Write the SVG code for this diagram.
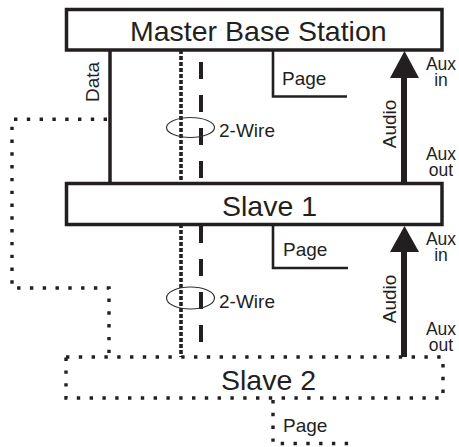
<svg xmlns="http://www.w3.org/2000/svg" width="459" height="447" viewBox="0 0 459 447">
<style>
.box{fill:#fff;stroke:#231f20;stroke-width:3.5}
.solid{fill:none;stroke:#231f20;stroke-width:3.5}
.page{fill:none;stroke:#231f20;stroke-width:2.6}
.dot{fill:none;stroke:#231f20;stroke-width:3.4;stroke-dasharray:3.4 9.4}
.fine{fill:none;stroke:#231f20;stroke-width:3.6;stroke-dasharray:4 2}
.dash{fill:none;stroke:#231f20;stroke-width:4;stroke-dasharray:17 16}
.ell{fill:none;stroke:#333;stroke-width:1.2}
.arrow{fill:#231f20}
.big{font-family:"Liberation Sans",Arial,sans-serif;font-size:28.5px;fill:#231f20}
.sm{font-family:"Liberation Sans",Arial,sans-serif;font-size:19px;fill:#231f20}
.aux{font-family:"Liberation Sans",Arial,sans-serif;font-size:17.5px;fill:#231f20;text-anchor:middle}
</style>
<g id="connectors">
  <line class="solid" x1="110" y1="50" x2="110" y2="183"/>
  <path class="dot" d="M107,119.3 H12 V288 H109 V357"/>
  <line class="fine" x1="181" y1="50" x2="181" y2="357"/>
  <line class="dash" x1="201" y1="62" x2="201" y2="180"/>
  <line class="dash" x1="201" y1="226" x2="201" y2="357"/>
  <ellipse class="ell" cx="190.5" cy="127.5" rx="24" ry="10"/>
  <ellipse class="ell" cx="190.5" cy="298" rx="24" ry="11"/>
  <path class="page" d="M273,50 V96.5 H347"/>
  <path class="page" d="M273,225 V268 H348"/>
  <path class="dot" d="M273,400 V443.5 H350"/>
  <rect class="arrow" x="401" y="76" width="6" height="107"/>
  <polygon class="arrow" points="404.5,51 419,78 390,78"/>
  <rect class="arrow" x="401" y="250" width="6" height="107"/>
  <polygon class="arrow" points="404.5,226 419,252 390,252"/>
  <text class="sm" transform="translate(99,82) rotate(-90)" text-anchor="middle">Data</text>
  <text class="sm" x="219" y="137">2-Wire</text>
  <text class="sm" x="219" y="308">2-Wire</text>
  <text class="sm" x="282" y="85">Page</text>
  <text class="sm" x="283" y="256">Page</text>
  <text class="sm" x="283" y="432">Page</text>
  <text class="sm" transform="translate(396,124) rotate(-90)" text-anchor="middle">Audio</text>
  <text class="sm" transform="translate(396,299) rotate(-90)" text-anchor="middle">Audio</text>
  <text class="aux" x="441" y="70">Aux</text>
  <text class="aux" x="441" y="85.5">in</text>
  <text class="aux" x="441" y="160">Aux</text>
  <text class="aux" x="441" y="176">out</text>
  <text class="aux" x="441" y="245">Aux</text>
  <text class="aux" x="441" y="260.5">in</text>
  <text class="aux" x="441" y="335">Aux</text>
  <text class="aux" x="441" y="351">out</text>
</g>
<g id="master">
  <rect class="box" x="66.5" y="9.5" width="375.5" height="40.5"/>
  <text class="big" x="130" y="41">Master Base Station</text>
</g>
<g id="slave1">
  <rect class="box" x="66.5" y="183.5" width="375.5" height="41"/>
  <text class="big" x="222" y="216">Slave 1</text>
</g>
<g id="slave2">
  <path class="dot" d="M66,357 H443 V398 H66 Z"/>
  <text class="big" x="221" y="390">Slave 2</text>
</g>
</svg>
